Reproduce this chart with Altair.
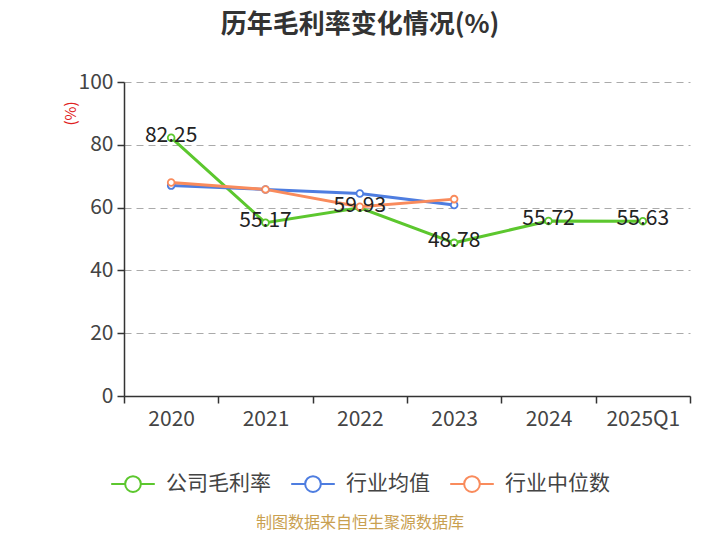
import altair as alt
import pandas as pd

categories = ["2020", "2021", "2022", "2023", "2024", "2025Q1"]
company = [82.25, 55.17, 59.93, 48.78, 55.72, 55.63]
industry_avg = [67.0, 65.8, 64.5, 60.8, None, None]
industry_median = [68.0, 65.8, 60.3, 62.7, None, None]
series_names = ["公司毛利率", "行业均值", "行业中位数"]
series_colors = ["#5cc72e", "#4e7de0", "#f98b5c"]

rows = []
for name, vals in zip(series_names, [company, industry_avg, industry_median]):
    for c, v in zip(categories, vals):
        if v is not None:
            rows.append({"year": c, "value": v, "series": name})
df = pd.DataFrame(rows)
df_company = df[df["series"] == "公司毛利率"].copy()
df_company["label"] = df_company["value"].map(lambda v: f"{v:.2f}")

FONT = "Noto Sans CJK SC"

legend_path = "M-1,0L-0.38,0M0.38,0L1,0M-0.36,0A0.36,0.36 0 1,0 0.36,0A0.36,0.36 0 1,0 -0.36,0Z"

x_enc = alt.X("year:N", sort=categories, title=None,
              scale=alt.Scale(domain=categories, paddingInner=0, paddingOuter=0),
              axis=alt.Axis(labelAngle=0, tickBand="extent", labelFontSize=21,
                            labelColor="#444", labelPadding=5, tickSize=7,
                            domainColor="#333", tickColor="#333", domainWidth=1.5,
                            tickWidth=1.5, grid=False))
y_enc = alt.Y("value:Q", title="(%)",
              scale=alt.Scale(domain=[0, 100], nice=False),
              axis=alt.Axis(values=[0, 20, 40, 60, 80, 100], labelFontSize=21,
                            labelColor="#444", tickSize=7, labelPadding=4,
                            domainColor="#333", tickColor="#333", domainWidth=1.5,
                            tickWidth=1.5, grid=True, gridDash=[7, 5],
                            gridColor="#aaaaaa", gridWidth=1,
                            titleColor="#e02020", titleFontSize=15,
                            titleFontWeight="normal", titleAngle=270,
                            titleAlign="center", titleBaseline="middle",
                            titleX=-54, titleY=31))

color_enc = alt.Color("series:N", sort=series_names,
                      scale=alt.Scale(domain=series_names, range=series_colors),
                      legend=alt.Legend(title=None, orient="none", direction="horizontal",
                                        legendX=-14, legendY=379,
                                        symbolType=legend_path, symbolSize=1900,
                                        symbolStrokeWidth=2, symbolFillColor="white",
                                        labelFontSize=21, labelColor="#444",
                                        labelOffset=10, columnPadding=16,
                                        labelFont=FONT))

lines = alt.Chart(df).mark_line(
    strokeWidth=3,
    point=alt.OverlayMarkDef(filled=False, fill="white", size=45, strokeWidth=1.8),
).encode(x=x_enc, y=y_enc, color=color_enc)

labels = alt.Chart(df_company).mark_text(
    fontSize=21, color="#222", baseline="middle", dy=-2, font=FONT
).encode(x=alt.X("year:N", sort=categories), y=alt.Y("value:Q"), text="label:N")

source = alt.Chart(pd.DataFrame({"t": ["制图数据来自恒生聚源数据库"]})).mark_text(
    fontSize=16, color="#c9a050", font=FONT, baseline="middle"
).encode(x=alt.value(236), y=alt.value(441), text="t:N")

chart = alt.layer(lines, labels, source).properties(
    width=566, height=314,
    autosize=alt.AutoSizeParams(type="none"),
    padding={"left": 116, "top": 74, "right": 22, "bottom": 136},
    title=alt.TitleParams("历年毛利率变化情况(%)", fontSize=26, fontWeight="bold",
                          color="#333", font=FONT, anchor="middle", dx=-47, offset=33),
).configure(font=FONT, view=alt.ViewConfig(stroke=None))

chart.save("out.html", embed_options={"renderer": "svg", "actions": False})
